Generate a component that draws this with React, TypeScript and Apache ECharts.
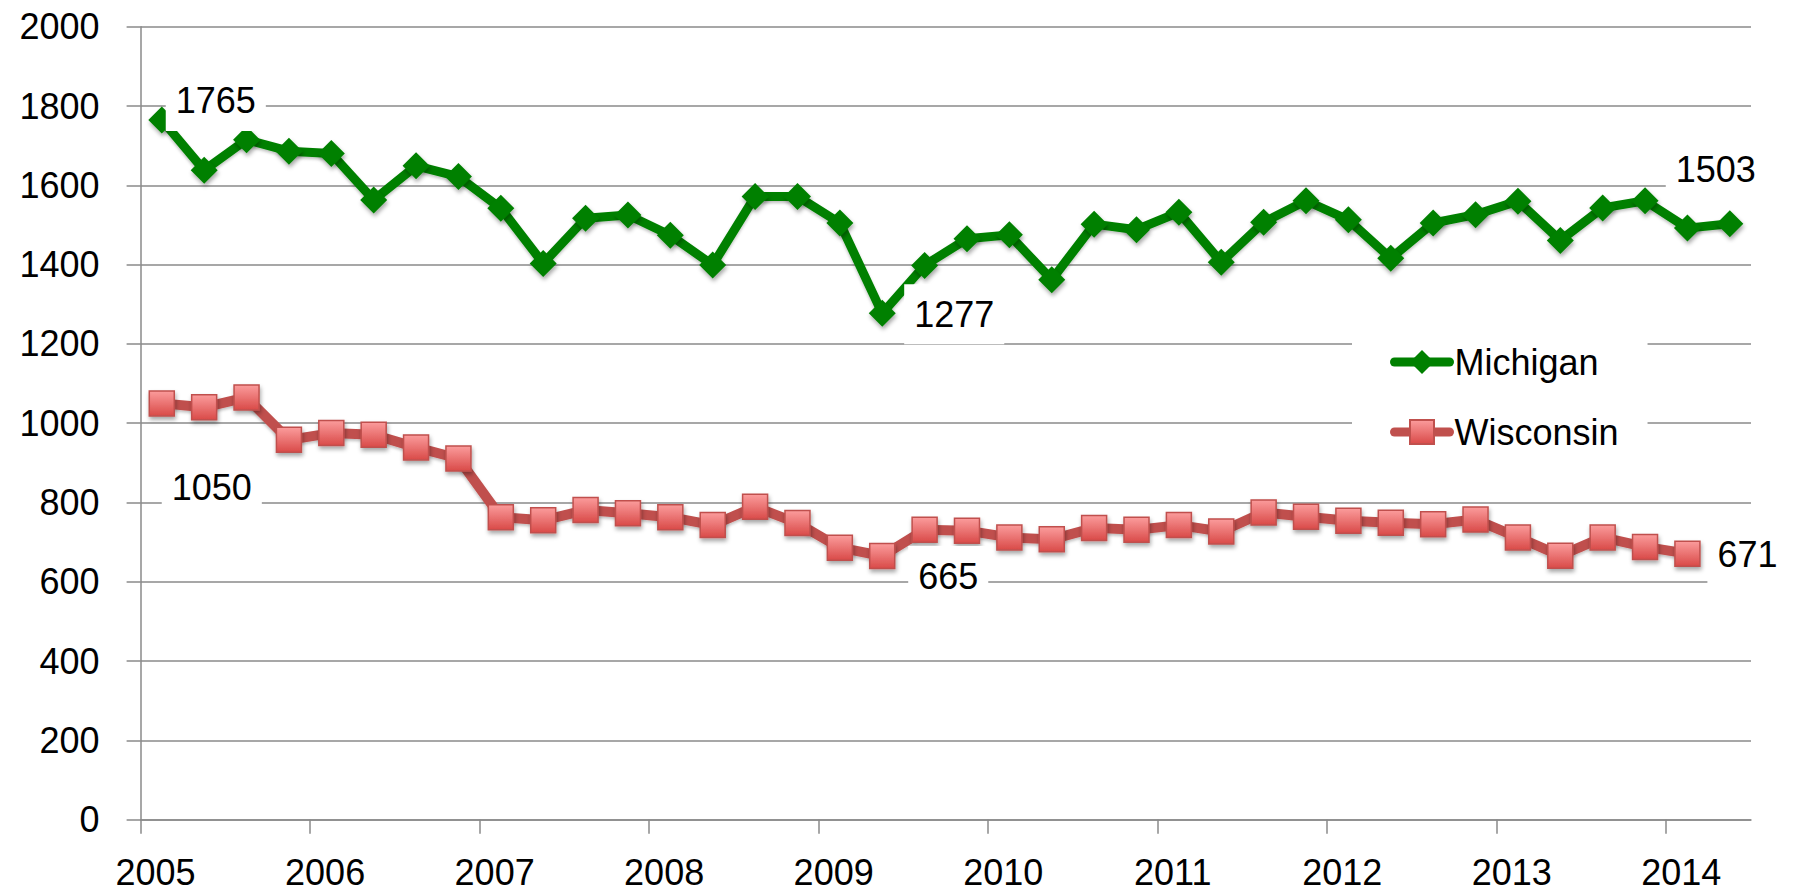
import React, { useEffect, useRef } from "react";
import * as echarts from "echarts";

// ---- data ----
const years = [2005, 2006, 2007, 2008, 2009, 2010, 2011, 2012, 2013, 2014];

const michigan = [
  1765, 1638, 1715, 1686, 1680, 1563, 1649, 1622, 1542, 1403,
  1517, 1525, 1474, 1399, 1572, 1572, 1505, 1277, 1398, 1465,
  1475, 1362, 1502, 1488, 1532, 1406, 1507, 1561, 1513, 1416,
  1505, 1526, 1560, 1461, 1543, 1561, 1492, 1503,
];

const wisconsin = [
  1050, 1040, 1065, 958, 975, 971, 939, 911, 763, 755,
  781, 773, 763, 743, 789, 748, 686, 665, 731, 729,
  712, 707, 736, 731, 743, 727, 775, 764, 754, 749,
  745, 757, 712, 666, 712, 688, 671,
];

const yTicks = [0, 200, 400, 600, 800, 1000, 1200, 1400, 1600, 1800, 2000];

// quarterly observations: mid-February, mid-May, mid-August, mid-November
const startYear = 2005;
const firstMonthMid = 1.5; // months from Jan 1
const monthsPerStep = 3;
const periodX = (i: number) => startYear + (firstMonthMid + monthsPerStep * i) / 12;

// label offsets (style): index -> [dx, dy]
const michiganLabelOffsets: Record<number, [number, number]> = {
  0: [54, -19],
  17: [72, 1],
  37: [-14, -54],
};
const wisconsinLabelOffsets: Record<number, [number, number]> = {
  0: [50, 84],
  17: [66, 20],
  36: [60, 1],
};

const FONT = '"Liberation Sans", Arial, sans-serif';
const FONT_SIZE = 36;
const GRID_COLOR = "#8a8a8a";

const labelBase = {
  show: true,
  position: "inside",
  color: "#000",
  fontSize: FONT_SIZE,
  fontFamily: FONT,
  backgroundColor: "#ffffff",
  padding: [9, 10],
  lineHeight: 42,
  formatter: (p: any) => String(p.value[1]),
};

function buildData(values: number[], offsets: Record<number, [number, number]>) {
  return values.map((v, i) => {
    const off = offsets[i];
    if (off) {
      return { value: [periodX(i), v], label: { ...labelBase, offset: off } };
    }
    return { value: [periodX(i), v] };
  });
}

export default function App() {
  const ref = useRef<HTMLDivElement>(null);

  useEffect(() => {
    if (!ref.current) return;
    const chart = echarts.init(ref.current, null, { renderer: "svg" });

    const markerShadow = {
      shadowBlur: 4,
      shadowColor: "rgba(0,0,0,0.35)",
      shadowOffsetX: 1,
      shadowOffsetY: 3,
    };

    const lineShadow = {
      shadowBlur: 3,
      shadowColor: "rgba(0,0,0,0.25)",
      shadowOffsetY: 2,
    };

    const option: any = {
      animation: false,
      backgroundColor: "#ffffff",
      textStyle: { fontFamily: FONT },
      grid: {
        left: 140.6,
        right: 46,
        top: 26.7,
        bottom: 72.3,
        containLabel: false,
        outerBoundsMode: "none",
      },
      legend: {
        orient: "vertical",
        left: 1352,
        top: 322,
        padding: [20, 29, 20, 38],
        backgroundColor: "#ffffff",
        itemWidth: 55,
        itemHeight: 30,
        itemGap: 30,
        lineStyle: { width: 9, cap: "round" },
        textStyle: {
          fontSize: FONT_SIZE,
          color: "#000",
          fontFamily: FONT,
          lineHeight: 40,
        },
        data: ["Michigan", "Wisconsin"],
      },
      xAxis: {
        type: "value",
        min: 2005,
        max: 2014.5,
        axisLine: { show: true, lineStyle: { color: GRID_COLOR, width: 1.5 } },
        axisTick: {
          show: true,
          length: 14,
          customValues: years,
          lineStyle: { color: GRID_COLOR, width: 1.5 },
        },
        axisLabel: {
          customValues: years,
          formatter: (v: number) => String(v),
          fontSize: FONT_SIZE,
          color: "#000",
          fontFamily: FONT,
          margin: 35,
          padding: [0, 0, 0, 30],
        },
        splitLine: { show: false },
      },
      yAxis: {
        type: "value",
        min: yTicks[0],
        max: yTicks[yTicks.length - 1],
        interval: yTicks[1] - yTicks[0],
        axisLine: { show: true, lineStyle: { color: GRID_COLOR, width: 1.5 } },
        axisTick: { show: true, length: 14, lineStyle: { color: GRID_COLOR, width: 1.5 } },
        axisLabel: {
          formatter: (v: number) => String(v),
          fontSize: FONT_SIZE,
          color: "#000",
          fontFamily: FONT,
          margin: 41,
        },
        splitLine: { show: true, lineStyle: { color: GRID_COLOR, width: 1.5 } },
      },
      series: [
        {
          name: "Michigan",
          type: "line",
          data: buildData(michigan, michiganLabelOffsets),
          symbol: "diamond",
          symbolSize: 27,
          showAllSymbol: true,
          lineStyle: { color: "#008000", width: 9, ...lineShadow },
          itemStyle: { color: "#008000", ...markerShadow },
          label: { show: false },
          z: 3,
        },
        {
          name: "Wisconsin",
          type: "line",
          data: buildData(wisconsin, wisconsinLabelOffsets),
          symbol: "rect",
          symbolSize: 25,
          showAllSymbol: true,
          lineStyle: { color: "#C0504D", width: 10, ...lineShadow },
          itemStyle: {
            color: new echarts.graphic.LinearGradient(0, 0, 0, 1, [
              { offset: 0, color: "#FB9C9C" },
              { offset: 1, color: "#D94A48" },
            ]),
            borderColor: "#C0504D",
            borderWidth: 1.5,
            ...markerShadow,
          },
          label: { show: false },
          z: 3,
        },
      ],
    };

    chart.setOption(option);
    return () => chart.dispose();
  }, []);

  return (
    <div
      ref={ref}
      style={{ position: "absolute", left: 0, top: 0, width: 1797, height: 892 }}
    />
  );
}
